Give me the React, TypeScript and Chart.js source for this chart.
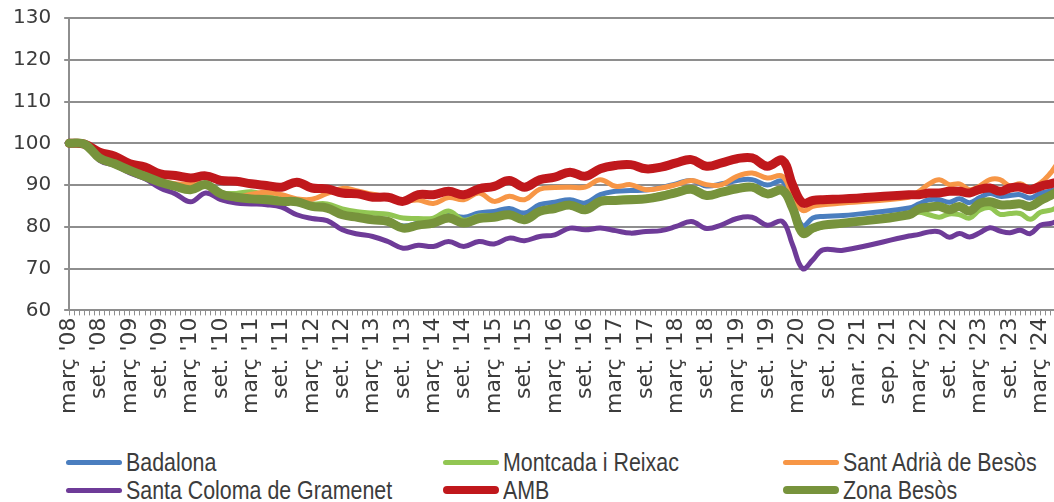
import React, { useEffect, useRef } from "react";
import { Chart, registerables } from "chart.js";

Chart.register(...registerables);

// Tick labels shown every 6 months (March 2008 .. March 2024)
const tickLabels = [
  "març '08", "set. '08", "març '09", "set. '09", "març '10", "set. '10",
  "març '11", "set. '11", "març '12", "set. '12", "març '13", "set. '13",
  "març '14", "set. '14", "març '15", "set. '15", "març '16", "set. '16",
  "març '17", "set. '17", "març '18", "set. '18", "març '19", "set. '19",
  "març '20", "set. '20", "mar. '21", "sep. '21", "març '22", "set. '22",
  "març '23", "set. '23", "març '24",
];

// Months elapsed since March 2008 at which values were read
const sampleMonths = [
  0, 3, 6, 9, 12, 15, 18, 21, 24, 27, 30, 33, 36,
  39, 42, 45, 48, 51, 54, 57, 60, 63, 66, 69, 72, 75,
  78, 81, 84, 87, 90, 93, 96, 99, 102, 105, 108, 111, 114,
  117, 120, 123, 126, 129, 132, 135, 138, 141, 143, 145, 147, 149, 153,
  166, 168, 170, 172, 174, 176, 178, 180, 182, 184, 186, 188, 190, 192, 194, 195,
];

const badalona = [
  100, 99.8, 96.4, 95.0, 93.4, 92.0, 90.6, 89.7, 88.9, 90.0, 87.9, 87.2, 86.9,
  86.7, 86.3, 86.2, 85.5, 84.8, 83.2, 82.6, 82.0, 81.6, 80.2, 80.9, 81.6, 83.0,
  82.3, 83.3, 83.7, 84.4, 83.3, 85.3, 85.9, 86.5, 85.7, 87.7, 88.5, 88.7, 88.8,
  89.4, 90.3, 91.1, 89.8, 90.3, 91.1, 91.3, 90.0, 90.9, 85.7, 80.2, 82.1, 82.5, 82.7,
  84.5, 85.5, 86.5, 86.5, 85.9, 86.7, 85.8, 87.0, 88.0, 87.3, 87.5, 87.7, 86.9, 88.0, 88.6, 89.0,
];

const montcada = [
  100, 99.8, 96.5, 95.1, 93.5, 92.1, 90.8, 89.9, 89.0, 90.0, 88.2, 88.0, 88.4,
  87.5, 86.5, 86.0, 85.5, 85.5, 84.3, 83.6, 83.3, 83.0, 82.1, 82.0, 82.1, 83.8,
  81.6, 82.6, 82.6, 83.2, 82.0, 84.0, 84.7, 85.5, 84.5, 86.5, 86.8, 87.0, 87.1,
  87.8, 88.6, 89.3, 87.8, 88.6, 89.4, 89.8, 88.2, 89.0, 84.3, 78.3, 79.3, 80.0, 80.6,
  82.9, 83.5, 82.9, 82.3, 83.1, 82.9, 82.1, 84.0, 84.6, 83.0, 83.2, 83.2, 81.8, 83.5, 84.0, 84.5,
];

const santAdria = [
  100, 99.8, 96.8, 95.3, 93.7, 92.3, 91.0, 90.3, 90.3, 90.1, 86.6, 87.0, 87.8,
  88.3, 87.7, 86.7, 86.6, 88.0, 89.2, 88.6, 87.8, 87.2, 86.2, 86.4, 85.6, 87.0,
  86.5, 88.1, 86.1, 87.3, 86.5, 89.0, 89.4, 89.5, 89.5, 91.3, 89.7, 90.1, 88.9,
  89.3, 90.1, 91.1, 90.1, 90.1, 92.1, 92.9, 91.7, 92.1, 87.3, 83.9, 84.9, 85.3, 85.7,
  87.1, 88.5, 90.3, 91.3, 90.1, 90.3, 88.9, 89.8, 91.3, 91.3, 89.8, 90.3, 89.3, 90.5, 92.9, 94.6,
];

const santaColoma = [
  100, 99.8, 95.9, 94.7, 92.9, 91.5, 89.3, 87.9, 86.0, 88.1, 86.5, 85.7, 85.5,
  85.3, 84.7, 82.9, 82.0, 81.5, 79.3, 78.3, 77.7, 76.5, 74.9, 75.6, 75.3, 76.5,
  75.3, 76.5, 75.9, 77.3, 76.7, 77.7, 78.1, 79.7, 79.3, 79.7, 79.1, 78.5, 78.9,
  79.1, 80.1, 81.3, 79.6, 80.5, 82.0, 82.3, 80.4, 81.3, 75.7, 70.0, 72.1, 74.5, 74.4,
  77.8, 78.2, 78.8, 78.8, 77.5, 78.4, 77.6, 78.6, 79.8, 79.0, 78.6, 79.2, 78.4, 80.4, 80.8, 81.2,
];

const amb = [
  100, 99.8, 97.9, 96.9, 95.1, 94.3, 92.7, 92.3, 91.7, 92.2, 91.1, 90.9, 90.3,
  89.9, 89.5, 90.7, 89.3, 89.1, 88.1, 87.9, 87.1, 87.1, 86.1, 87.7, 87.7, 88.5,
  87.7, 89.1, 89.7, 91.1, 89.5, 91.3, 91.9, 93.1, 92.1, 93.9, 94.7, 94.9, 93.9,
  94.3, 95.3, 96.1, 94.5, 95.3, 96.3, 96.5, 94.5, 95.9, 90.1, 85.7, 86.3, 86.5, 86.7,
  87.7, 87.7, 88.1, 88.1, 88.5, 88.5, 88.1, 89.0, 89.3, 88.5, 89.3, 89.5, 88.9, 89.7, 90.3, 90.6,
];

const zonaBesos = [
  100, 99.8, 96.5, 95.1, 93.5, 92.1, 90.7, 89.7, 88.9, 90.1, 87.9, 87.1, 86.7,
  86.5, 86.1, 86.0, 84.9, 84.5, 82.9, 82.3, 81.7, 81.3, 79.7, 80.4, 80.9, 82.1,
  80.9, 82.0, 82.3, 82.9, 81.7, 83.7, 84.4, 85.2, 84.1, 86.1, 86.3, 86.5, 86.7,
  87.3, 88.2, 89.0, 87.5, 88.3, 89.1, 89.5, 87.9, 88.7, 84.5, 78.5, 79.7, 80.4, 80.9,
  82.9, 84.3, 84.7, 84.9, 84.1, 84.9, 83.8, 85.6, 86.0, 85.3, 85.3, 85.5, 84.9, 86.3, 87.5, 88.2,
];

const seriesNames = [
  "Badalona", "Montcada i Reixac", "Sant Adrià de Besòs",
  "Santa Coloma de Gramenet", "AMB", "Zona Besòs",
];
const seriesValues = [badalona, montcada, santAdria, santaColoma, amb, zonaBesos];
const seriesColors = ["#4a7ebf", "#92c653", "#f79646", "#6e3b98", "#c0181c", "#77933c"];
const seriesWidths = [5, 5, 5, 5, 9, 9];
const seriesOrder = [5, 4, 3, 2, 1, 0];

// Monthly category axis: March 2008 .. June 2024
const monthCount = 196;
const categories = Array.from({ length: monthCount }, (_, i) => {
  const t = 2 + i;
  const y = 2008 + Math.floor(t / 12);
  const mo = (t % 12) + 1;
  return `${y}-${String(mo).padStart(2, "0")}`;
});

function toMonthly(values: number[]) {
  const arr: (number | null)[] = new Array(categories.length).fill(null);
  sampleMonths.forEach((m, i) => {
    arr[m] = values[i];
  });
  return arr;
}

const GRID = "#8e8e8e";
const TEXT = "#3c3c3c";

export default function App() {
  const canvasRef = useRef<HTMLCanvasElement | null>(null);

  useEffect(() => {
    if (!canvasRef.current) return;
    const chart = new Chart(canvasRef.current, {
      type: "line",
      data: {
        labels: categories,
        datasets: seriesNames.map((name, i) => ({
          label: name,
          data: toMonthly(seriesValues[i]),
          borderColor: seriesColors[i],
          backgroundColor: seriesColors[i],
          borderWidth: seriesWidths[i],
          order: seriesOrder[i],
          pointRadius: 0,
          pointHoverRadius: 0,
          tension: 0.4,
          spanGaps: true,
          fill: false,
          borderCapStyle: "round",
          borderJoinStyle: "round",
        })),
      },
      options: {
        responsive: false,
        animation: false,
        devicePixelRatio: 1,
        layout: { padding: { left: 0, top: 2, right: 0, bottom: 8 } },
        plugins: {
          legend: { display: false },
          tooltip: { enabled: false },
        },
        scales: {
          x: {
            type: "category",
            grid: {
              drawOnChartArea: false,
              drawTicks: true,
              tickLength: 5,
              color: GRID,
              lineWidth: 1,
            },
            border: { color: GRID, width: 2 },
            ticks: {
              autoSkip: false,
              maxRotation: 90,
              minRotation: 90,
              padding: 2,
              color: TEXT,
              font: { family: "'DejaVu Sans', sans-serif", size: 22 },
              callback: (_v: any, i: number) => (i % 6 === 0 ? tickLabels[i / 6] : ""),
            },
          },
          y: {
            min: 60,
            max: 130,
            grid: { color: GRID, lineWidth: 2, tickLength: 5 },
            border: { color: GRID, width: 2 },
            ticks: {
              stepSize: 10,
              padding: 13,
              color: TEXT,
              font: { family: "'DejaVu Sans', sans-serif", size: 20 },
            },
          },
        },
      },
    });
    return () => chart.destroy();
  }, []);

  const legendCols = [66, 443, 783];
  const legendRows = [462, 490];

  return (
    <div
      style={{
        position: "fixed",
        left: 0,
        top: 0,
        width: 1054,
        height: 502,
        overflow: "hidden",
        background: "#ffffff",
      }}
    >
      <canvas ref={canvasRef} width={1084} height={431} style={{ position: "absolute", left: 0, top: -7 }} />
      {seriesNames.map((name, i) => (
        <div
          key={name}
          style={{
            position: "absolute",
            left: legendCols[i % 3],
            top: legendRows[Math.floor(i / 3)] - 15,
            height: 30,
            display: "flex",
            alignItems: "center",
            whiteSpace: "nowrap",
            color: TEXT,
          }}
        >
          <span
            style={{
              display: "inline-block",
              width: 56,
              height: seriesWidths[i] === 9 ? 8 : 5,
              borderRadius: 4,
              background: seriesColors[i],
              marginRight: 4,
            }}
          />
          <span
            style={{
              display: "inline-block",
              fontFamily: "'Liberation Sans', Arial, sans-serif",
              fontSize: 25,
              transform: "scaleX(0.855)",
              transformOrigin: "left center",
            }}
          >
            {name}
          </span>
        </div>
      ))}
    </div>
  );
}
